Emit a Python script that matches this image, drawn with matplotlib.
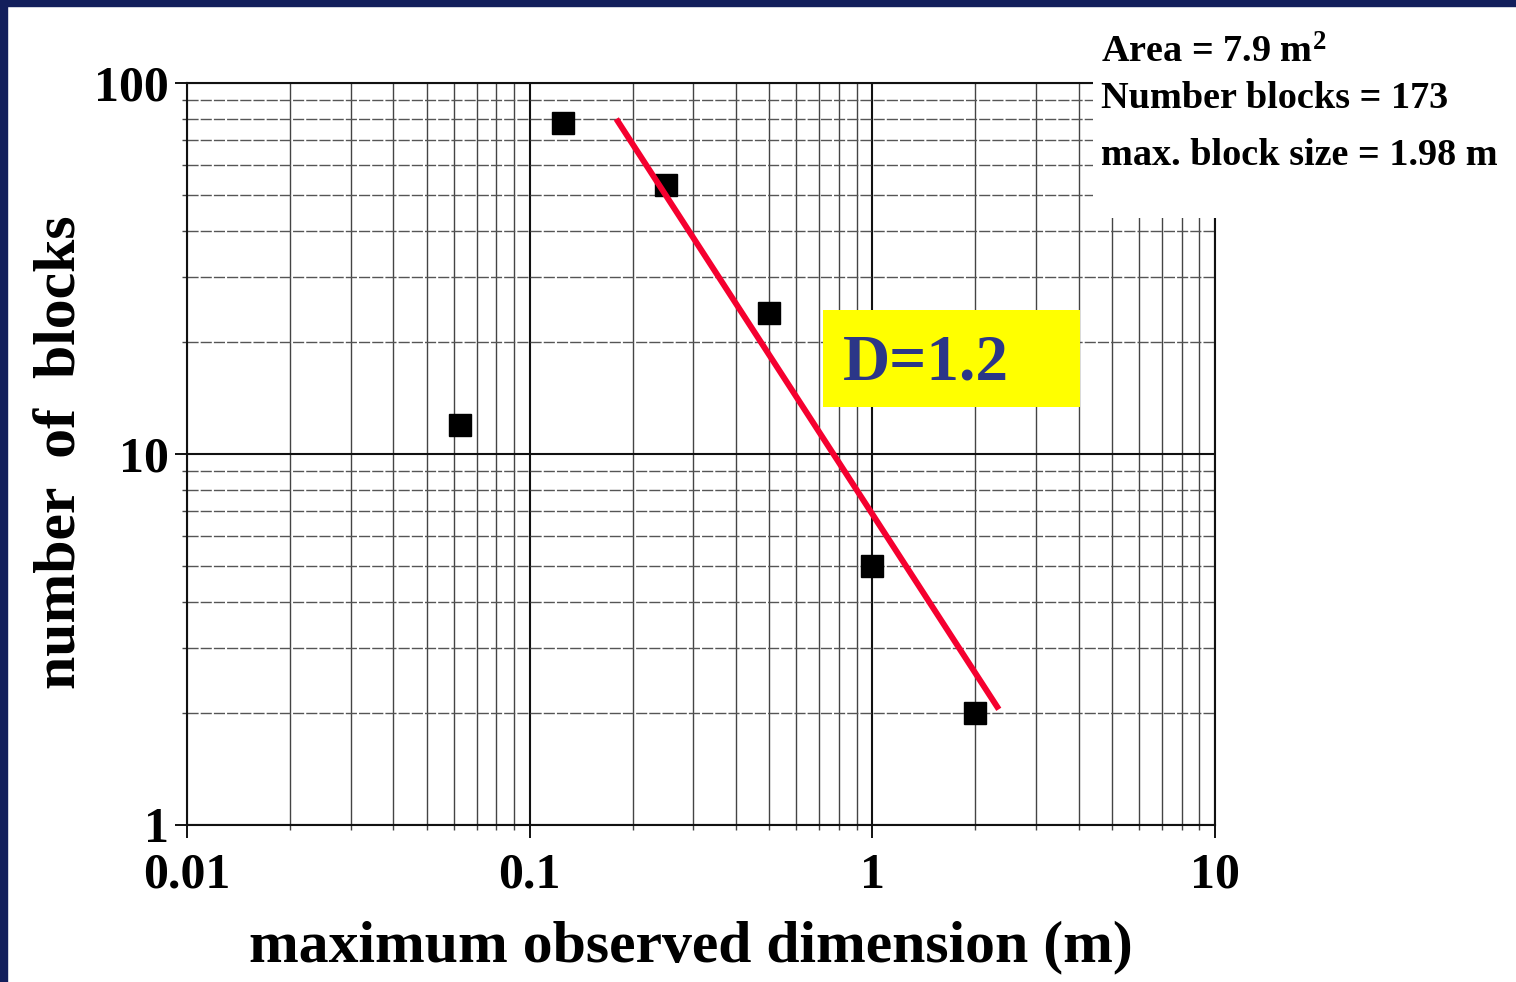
import matplotlib
matplotlib.use("Agg")
import matplotlib.pyplot as plt
from matplotlib.patches import Rectangle
from matplotlib.ticker import LogLocator, NullFormatter, FixedLocator, FixedFormatter

# measured blocks
block_size = [0.0625, 0.125, 0.25, 0.5, 1.0, 2.0]
block_count = [12, 78, 53, 24, 5, 2]

# fitted power law (end points as drawn)
fit_x = [0.179, 2.34]
fit_y = [80, 2.05]

xticks = [0.01, 0.1, 1, 10]
xtick_labels = ["0.01", "0.1", "1", "10"]
yticks = [1, 10, 100]
ytick_labels = ["1", "10", "100"]

info_lines = ["Area = 7.9 m$^{\\mathbf{2}}$", "Number blocks = 173", "max. block size = 1.98 m"]
d_label = "D=1.2"

serif = "Liberation Serif"
plt.rcParams["font.family"] = serif
plt.rcParams["mathtext.fontset"] = "custom"
plt.rcParams["mathtext.rm"] = serif
plt.rcParams["mathtext.bf"] = serif + ":bold"
plt.rcParams["mathtext.default"] = "bf"

fig = plt.figure(figsize=(15.16, 9.82), dpi=100)
fig.patch.set_facecolor("white")

# navy frame strips on left and top edge
navy = "#131f5c"
fig.patches.append(Rectangle((0, 0), 7 / 1516, 1, transform=fig.transFigure, color=navy, zorder=0))
fig.patches.append(Rectangle((0, 1 - 6 / 982), 1, 6 / 982, transform=fig.transFigure, color=navy, zorder=0))

ax = fig.add_axes([0.1234, 0.1599, 0.6780, 0.7556])
ax.set_xscale("log")
ax.set_yscale("log")
ax.set_xlim(0.01, 10)
ax.set_ylim(1, 100)

ax.xaxis.set_major_locator(FixedLocator(xticks))
ax.xaxis.set_major_formatter(FixedFormatter(xtick_labels))
ax.yaxis.set_major_locator(FixedLocator(yticks))
ax.yaxis.set_major_formatter(FixedFormatter(ytick_labels))
ax.xaxis.set_minor_locator(LogLocator(base=10, subs=range(2, 10)))
ax.yaxis.set_minor_locator(LogLocator(base=10, subs=range(2, 10)))
ax.xaxis.set_minor_formatter(NullFormatter())
ax.yaxis.set_minor_formatter(NullFormatter())

ax.grid(True, which="major", color="#111111", linewidth=1.5)
ax.xaxis.grid(True, which="minor", color="#444444", linewidth=1.0)
ax.yaxis.grid(True, which="minor", color="#555555", linewidth=1.0, linestyle=(0, (8, 1.5)))

for s in ax.spines.values():
    s.set_color("#111111")
    s.set_linewidth(1.5)

ax.tick_params(which="major", direction="out", length=9, width=1.4, color="#111111",
               labelsize=36)
ax.tick_params(which="minor", direction="out", length=3.5, width=1.0, color="#444444")
ax.tick_params(axis="x", which="major", pad=11)
ax.tick_params(axis="y", which="major", pad=4)
for lab in ax.get_xticklabels() + ax.get_yticklabels():
    lab.set_fontweight("bold")

ax.plot(block_size, block_count, linestyle="none", marker="s", markersize=16,
        color="black", zorder=4)
ax.plot(fit_x, fit_y, color="#f5002f", linewidth=4.3, solid_capstyle="butt", zorder=5)

ax.set_xlabel("maximum observed dimension (m)", fontsize=43, fontweight="bold")
ax.set_ylabel("number  of  blocks", fontsize=43, fontweight="bold")
ax.xaxis.set_label_coords(0.490, -0.129)
ax.yaxis.set_label_coords(-0.096, 0.502)

# white patch hiding the grid behind the info text
ax.add_patch(Rectangle((0.881, 0.818), 0.2, 0.3, transform=ax.transAxes, facecolor="white",
                       edgecolor="none", clip_on=False, zorder=6))
info_y = [1.028, 0.966, 0.889]
for line, yy in zip(info_lines, info_y):
    ax.text(0.889, yy, line, transform=ax.transAxes, fontsize=27.5, fontweight="bold",
            ha="left", va="baseline", zorder=7)

# D value box
ax.add_patch(Rectangle((0.619, 0.563), 0.250, 0.131, transform=ax.transAxes,
                       facecolor="#ffff00", edgecolor="none", zorder=6))
ax.text(0.638, 0.622, d_label, transform=ax.transAxes, fontsize=47, fontweight="bold",
        color="#2b3688", ha="left", va="center", zorder=7)

fig.savefig("out.png", dpi=100)
